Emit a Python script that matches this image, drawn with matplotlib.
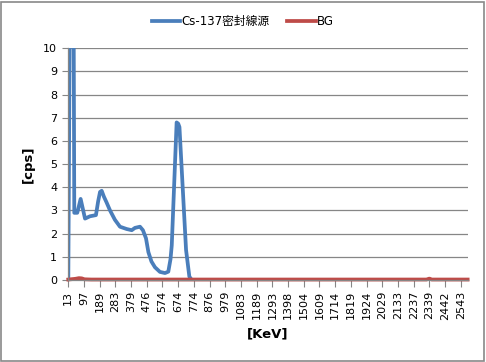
import numpy as np
import matplotlib
matplotlib.use("Agg")
import matplotlib.pyplot as plt
from matplotlib.patches import Rectangle

plt.rcParams['font.family'] = ['DejaVu Sans', 'Noto Sans CJK JP']

# category tick labels on the energy axis (keV)
tick_kev = [13, 97, 189, 283, 379, 476, 574, 674, 774, 876, 979, 1083, 1189,
            1293, 1398, 1504, 1609, 1714, 1819, 1924, 2029, 2133, 2237, 2339,
            2442, 2543]

# Cs-137 sealed source spectrum
cs_kev = [13, 34, 45, 61, 79, 103, 132, 167, 180, 191, 201, 214, 230, 251,
          280, 311, 352, 383, 403, 434, 452, 471, 486, 505, 527, 558, 590,
          611, 625, 633, 664, 674, 682, 724, 745, 760, 2587]
cs_cps = [0, 30, 2.9, 2.9, 3.5, 2.65, 2.75, 2.8, 3.4, 3.8, 3.85, 3.6, 3.35, 3.0,
          2.6, 2.3, 2.2, 2.15, 2.25, 2.3, 2.15, 1.8, 1.2, 0.8, 0.55, 0.35, 0.3,
          0.36, 0.9, 1.5, 6.8, 6.75, 6.6, 1.3, 0.15, 0, 0]

# background
bg_kev = [13, 50, 70, 85, 100, 140, 2320, 2339, 2355, 2587]
bg_cps = [0.02, 0.05, 0.08, 0.07, 0.03, 0.02, 0.02, 0.06, 0.02, 0.02]

# category axis position from energy (ticks evenly spaced)
scale_kev = tick_kev + [2644]
scale_pos = list(range(len(tick_kev) + 1))


def to_pos(kev):
    return np.interp(kev, scale_kev, scale_pos)


blue = '#4A7EBB'
red = '#BE4B48'
grid_c = '#868686'

fig = plt.figure(figsize=(4.86, 3.62), dpi=100)
ax = fig.add_axes([68.3 / 486, 1 - 280 / 362, (467.7 - 68.3) / 486, (280 - 48.3) / 362])

ax.plot(to_pos(cs_kev), cs_cps, color=blue, lw=2.7, label='Cs-137密封線源',
        solid_joinstyle='round')
ax.plot(to_pos(bg_kev), bg_cps, color=red, lw=2.7, label='BG', clip_on=False)

ax.set_ylim(0, 10)
ax.set_xlim(0, 25.44)
ax.set_yticks(range(0, 11))
ax.set_xticks(range(len(tick_kev)))
ax.set_xticklabels([str(v) for v in tick_kev], rotation=90, fontsize=8)
ax.tick_params(axis='y', labelsize=8, length=4, color=grid_c, pad=4)
ax.tick_params(axis='x', length=5, color=grid_c, pad=3)
ax.yaxis.grid(True, color=grid_c, lw=0.9)
ax.set_axisbelow(True)
for s in ['top', 'right']:
    ax.spines[s].set_visible(False)
for s in ['left', 'bottom']:
    ax.spines[s].set_color(grid_c)
    ax.spines[s].set_linewidth(0.9)

ax.set_ylabel('[cps]', fontsize=9.5, fontweight='bold', labelpad=6)
ax.set_xlabel('[KeV]', fontsize=9.5, fontweight='bold', labelpad=5.5)

fig.legend(loc='center', bbox_to_anchor=(0.5, 0.94), ncol=2, frameon=False,
           fontsize=8.5, handlelength=2.4, columnspacing=1.5, handletextpad=0.1)

fig.patches.append(Rectangle((0.002, 0.003), 0.994, 0.992, transform=fig.transFigure,
                             fill=False, edgecolor='#898989', lw=1.2))

fig.savefig('out.png', dpi=100)
